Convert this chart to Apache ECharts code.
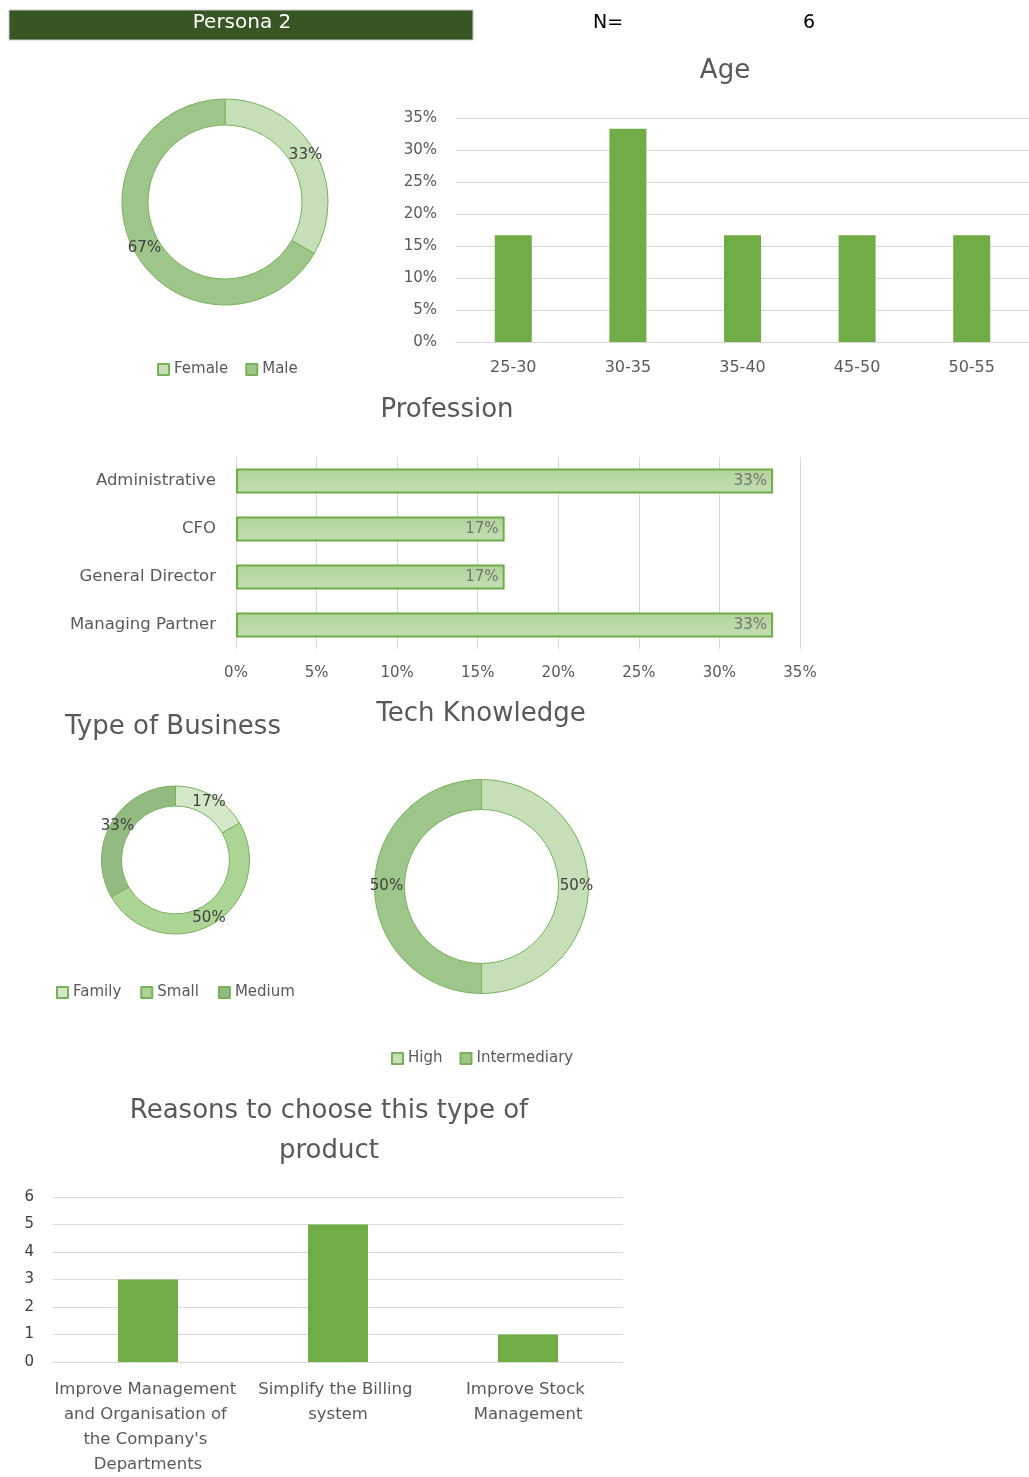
<!DOCTYPE html>
<html>
<head>
<meta charset="utf-8">
<title>Persona 2</title>
<script src="https://cdn.jsdelivr.net/npm/echarts@6/dist/echarts.min.js"></script>
<style>
  html, body { margin: 0; padding: 0; background: #ffffff; }
  #chart { width: 1029px; height: 1477px; }
</style>
</head>
<body>
<div id="chart"></div>
<script>
// ---- data ----
const personaName = 'Persona 2';
const sampleSize = 6;

const genderNames = ['Female', 'Male'];
const genderShares = [0.3333, 0.6667];

const ageGroups = ['25-30', '30-35', '35-40', '45-50', '50-55'];
const ageShares = [0.1667, 0.3333, 0.1667, 0.1667, 0.1667];
const ageTicks = { min: 0, max: 0.35, step: 0.05 };

const professions = ['Administrative', 'CFO', 'General Director', 'Managing Partner'];
const professionShares = [0.3333, 0.1667, 0.1667, 0.3333];

const businessTypes = ['Family', 'Small', 'Medium'];
const businessShares = [0.1667, 0.5, 0.3333];

const techLevels = ['High', 'Intermediary'];
const techShares = [0.5, 0.5];

const reasons = [
  "Improve Management and Organisation of the Company's Departments",
  'Simplify the Billing system',
  'Improve Stock Management'
];
const reasonCounts = [3, 5, 1];
const reasonTicks = { min: 0, max: 6, step: 1 };

// ---- styling ----
const FONT = 'DejaVu Sans';
const TXT = '#595959';
const GRIDLINE = '#d9d9d9';
const BAR = '#70ad47';
const RING_BORDER = '#78b15a';

const pct = v => Math.round(v * 100) + '%';

function ringData(names, values, colors) {
  return names.map((n, i) => ({
    name: n,
    value: values[i],
    itemStyle: { color: colors[i] }
  }));
}

function ringSeries(id, center, radius, names, values, colors) {
  return {
    type: 'pie',
    id: id,
    center: center,
    radius: radius,
    startAngle: 90,
    clockwise: true,
    silent: true,
    avoidLabelOverlap: false,
    itemStyle: { borderColor: RING_BORDER, borderWidth: 1 },
    label: {
      show: true,
      position: 'inside',
      formatter: p => pct(p.value),
      color: '#404040',
      fontFamily: FONT,
      fontSize: 15
    },
    labelLine: { show: false },
    data: ringData(names, values, colors)
  };
}

function legendFor(names, left, top, gap) {
  return {
    data: names,
    left: left,
    top: top,
    orient: 'horizontal',
    icon: 'rect',
    itemWidth: 11,
    itemHeight: 11,
    itemGap: gap,
    selectedMode: false,
    textStyle: { color: TXT, fontFamily: FONT, fontSize: 15 }
  };
}

function titleText(text, x, y, size, align) {
  return {
    type: 'text',
    x: x,
    y: y,
    style: {
      text: text,
      fill: TXT,
      font: size + 'px "' + FONT + '"',
      textAlign: align || 'center',
      textVerticalAlign: 'middle'
    }
  };
}

const axisText = { color: TXT, fontFamily: FONT, fontSize: 15 };

const chart = echarts.init(document.getElementById('chart'), null, { renderer: 'canvas' });

chart.setOption({
  animation: false,
  backgroundColor: '#ffffff',
  graphic: [
    // header band
    {
      type: 'rect',
      shape: { x: 9, y: 10, width: 464, height: 30 },
      style: { fill: '#375623', stroke: '#c9c9c9', lineWidth: 1 }
    },
    {
      type: 'text', x: 242, y: 23,
      style: { text: personaName, fill: '#ffffff', font: '20px "' + FONT + '"', textAlign: 'center', textVerticalAlign: 'middle' }
    },
    {
      type: 'text', x: 608, y: 23,
      style: { text: 'N=', fill: '#000000', font: '19px "' + FONT + '"', textAlign: 'center', textVerticalAlign: 'middle' }
    },
    {
      type: 'text', x: 809, y: 23,
      style: { text: String(sampleSize), fill: '#000000', font: '19px "' + FONT + '"', textAlign: 'center', textVerticalAlign: 'middle' }
    },
    titleText('Age', 725, 71, 26),
    titleText('Profession', 447, 410, 26),
    titleText('Type of Business', 65, 727, 26, 'left'),
    titleText('Tech Knowledge', 481, 714, 26),
    titleText('Reasons to choose this type of', 329, 1111, 26),
    titleText('product', 329, 1151, 26)
  ],
  legend: [
    legendFor(genderNames, 152, 357, 17),
    legendFor(businessTypes, 51, 980, 19),
    legendFor(techLevels, 386, 1046, 17)
  ],
  grid: [
    { id: 'age', left: 456, top: 118, width: 581, height: 224, containLabel: false },
    { id: 'prof', left: 236, top: 457, width: 564, height: 192, containLabel: false },
    { id: 'reason', left: 53, top: 1197, width: 570, height: 166, containLabel: false }
  ],
  xAxis: [
    {
      gridIndex: 0, type: 'category', data: ageGroups,
      axisLine: { lineStyle: { color: GRIDLINE } },
      axisTick: { show: false },
      axisLabel: Object.assign({}, axisText, { margin: 18, fontSize: 16 })
    },
    {
      gridIndex: 1, type: 'value', min: ageTicks.min, max: ageTicks.max, interval: ageTicks.step,
      axisLine: { show: false },
      axisTick: { show: false },
      splitLine: { lineStyle: { color: GRIDLINE } },
      axisLabel: Object.assign({}, axisText, { margin: 17, formatter: v => pct(v) })
    },
    {
      gridIndex: 2, type: 'category', data: reasons,
      axisLine: { lineStyle: { color: GRIDLINE } },
      axisTick: { show: false },
      axisLabel: Object.assign({}, axisText, {
        margin: 15, fontSize: 16.5, lineHeight: 25, width: 190, overflow: 'break', interval: 0
      })
    }
  ],
  yAxis: [
    {
      gridIndex: 0, type: 'value', min: ageTicks.min, max: ageTicks.max, interval: ageTicks.step,
      axisLine: { show: false },
      axisTick: { show: false },
      splitLine: { lineStyle: { color: GRIDLINE } },
      axisLabel: Object.assign({}, axisText, { margin: 19, formatter: v => pct(v) })
    },
    {
      gridIndex: 1, type: 'category', data: professions, inverse: true,
      axisLine: { show: false },
      axisTick: { show: false },
      axisLabel: Object.assign({}, axisText, { margin: 20, fontSize: 16.5 })
    },
    {
      gridIndex: 2, type: 'value', min: reasonTicks.min, max: reasonTicks.max, interval: reasonTicks.step,
      axisLine: { show: false },
      axisTick: { show: false },
      splitLine: { lineStyle: { color: GRIDLINE } },
      axisLabel: Object.assign({}, axisText, { margin: 19, color: '#404040' })
    }
  ],
  series: [
    ringSeries('gender', [225, 202], [77, 103], genderNames, genderShares, ['#c6dfb8', '#9fc68a']),
    {
      type: 'bar', xAxisIndex: 0, yAxisIndex: 0, data: ageShares,
      barWidth: 37, silent: true,
      itemStyle: { color: BAR }
    },
    {
      type: 'bar', xAxisIndex: 1, yAxisIndex: 1, data: professionShares,
      barWidth: 25, silent: true,
      itemStyle: {
        color: new echarts.graphic.LinearGradient(0, 0, 0, 1, [
          { offset: 0, color: '#afd39a' },
          { offset: 1, color: '#c3dfb2' }
        ]),
        borderColor: BAR,
        borderWidth: 2
      },
      label: {
        show: true, position: 'insideRight', distance: 6,
        formatter: p => pct(p.value),
        color: '#747474', fontFamily: FONT, fontSize: 15
      }
    },
    ringSeries('business', [175.5, 860], [54, 74], businessTypes, businessShares, ['#d3e7c9', '#acd495', '#93ba80']),
    ringSeries('tech', [481.5, 886.5], [77, 107], techLevels, techShares, ['#c6dfb8', '#9fc68a']),
    {
      type: 'bar', xAxisIndex: 2, yAxisIndex: 2, data: reasonCounts,
      barWidth: 60, silent: true,
      itemStyle: { color: BAR }
    }
  ]
});
</script>
</body>
</html>
